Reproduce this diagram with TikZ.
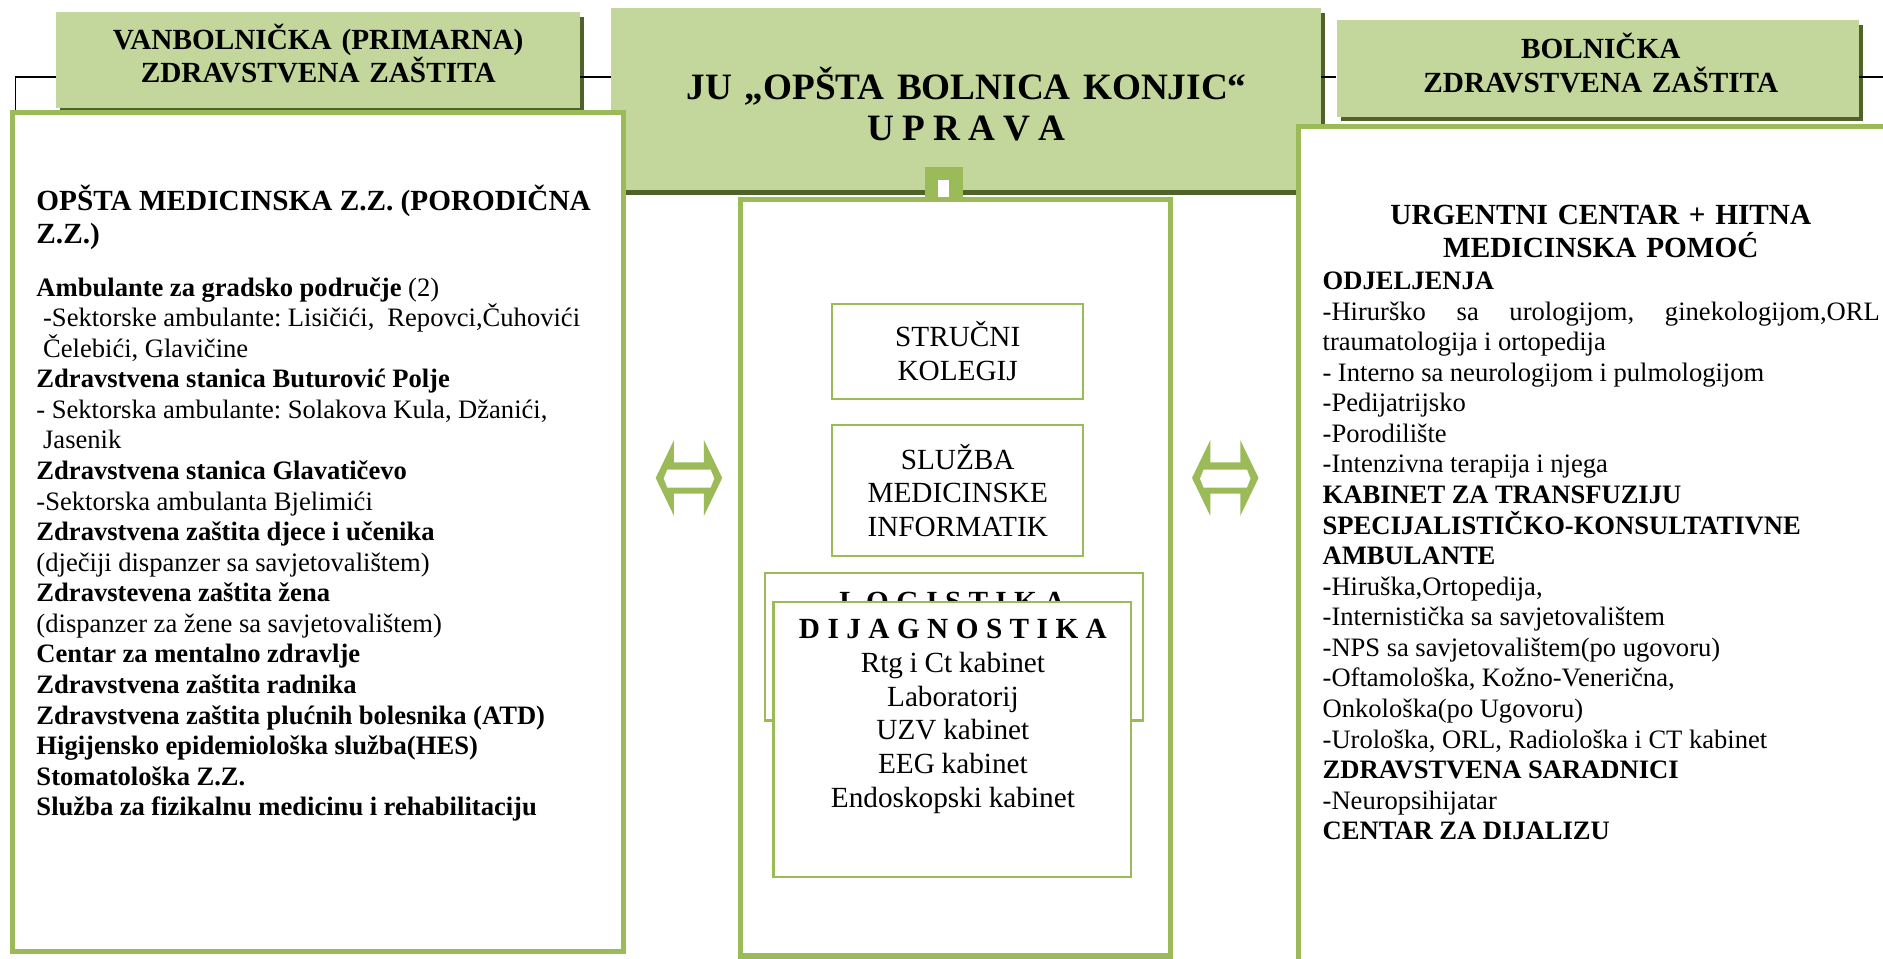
\documentclass[tikz,border=0pt]{standalone}
\usepackage{fontspec}
\setmainfont{Liberation Serif}
\usetikzlibrary{positioning,shadows}
\definecolor{hdrgreen}{HTML}{C3D69B}
\definecolor{hdrshade}{HTML}{4F6228}
\definecolor{boxgreen}{HTML}{9BBB59}
\newcommand{\px}{0.542pt}
% font size and leading, no extra space after punctuation
\newcommand{\setfs}[2]{\fontsize{#1}{#2}\selectfont\frenchspacing}
% word space, in em
\newcommand{\wsp}[1]{\spaceskip=#1em\relax}
\tikzset{
    % Define header box style
    hdrbox/.style={
           fill=hdrgreen,
           inner sep=0pt,
           drop shadow={fill=hdrshade, opacity=1, shadow xshift=1.8pt, shadow yshift=-2.2pt},},
    % Define connector style
    conn/.style={
           draw=black,
           line width=0.8pt,}
}

\begin{document}
\begin{tikzpicture}[x=\px, y=-\px,
bigbox/.style={draw=boxgreen, line width=2.3pt, fill=white, inner sep=0pt},
smallbox/.style={draw=boxgreen, line width=1pt, fill=white, inner sep=0pt,
   align=center, text width=108pt, font=\setfs{13.2}{15.3}},
hdrtext/.style={anchor=base, align=center, text width=236pt, inner sep=0pt,
   font=\setfs{13.2}{15}\bfseries},
bodytext/.style={anchor=base west, align=left, inner sep=0pt,
   font=\setfs{12}{13.8}},
arrowfill/.style={fill=boxgreen},
]
\useasboundingbox (0,0) rectangle (1568,798);
\clip (0,0) rectangle (1568,798);

%Headers
\node[hdrbox, minimum width=320.3pt, minimum height=81.8pt](chdr) at (804.5,82.5){};
\node[hdrbox, minimum width=236.3pt, minimum height=43.4pt](lhdr) at (265,50){};
\node[hdrbox, minimum width=235.8pt, minimum height=43.4pt](rhdr) at (1330.5,57){};
\node[draw=boxgreen, line width=6pt, fill=white, minimum width=11.1pt,
   minimum height=21.7pt, anchor=north, inner sep=0pt](tab) at (785.75,139){};

%Boxes
\node[bigbox, minimum width=193.8pt, minimum height=341.5pt](cbox) at (795.75,481){};
\node[bigbox, minimum width=275.6pt, minimum height=378.3pt](lbox) at (264.75,443){};
\node[bigbox, minimum width=292.7pt, minimum height=401pt](rbox) at (1351,475.5){};

%Header texts
\node[hdrtext](lhdrtxt) at (265,41){VANBOLNIČKA (PRIMARNA)\\ZDRAVSTVENA ZAŠTITA};
\node[hdrtext](rhdrtxt) at (1333,49){BOLNIČKA\\ZDRAVSTVENA ZAŠTITA};
\node[hdrtext, text width=310pt, font=\setfs{16.8}{18.7}\bfseries](chdrtxt)
   at (805,82.5){JU „OPŠTA BOLNICA KONJIC“\\{\wsp{0.22}U P R A V A}};

%Left column
\node[bodytext, text width=262.9pt, font=\setfs{13.2}{15.2}\bfseries](ltitle)
   at (30,175){\wsp{0.25}OPŠTA MEDICINSKA Z.Z. (PORODIČNA\\Z.Z.)};
\node[bodytext, text width=262.9pt](lbody) at (30,246.5){\wsp{0.245}%
\textbf{Ambulante za gradsko područje} (2)\\
\hspace*{3pt}-Sektorske ambulante: Lisičići,\ \ Repovci,Čuhovići\\
\hspace*{3pt}Čelebići, Glavičine\\
\textbf{Zdravstvena stanica Buturović Polje}\\
- Sektorska ambulante: Solakova Kula, Džanići,\\
\hspace*{3pt}Jasenik\\
\textbf{Zdravstvena stanica Glavatičevo}\\
-Sektorska ambulanta Bjelimići\\
\textbf{Zdravstvena zaštita djece i učenika}\\
(dječiji dispanzer sa savjetovalištem)\\
\textbf{Zdravstevena zaštita žena}\\
(dispanzer za žene sa savjetovalištem)\\
\textbf{Centar za mentalno zdravlje}\\
\textbf{Zdravstvena zaštita radnika}\\
\textbf{Zdravstvena zaštita plućnih bolesnika (ATD)}\\
\textbf{Higijensko epidemiološka služba(HES)}\\
\textbf{Stomatološka Z.Z.}\\
\textbf{Služba za fizikalnu medicinu i rehabilitaciju}};

%Centre column
\node[smallbox, minimum width=113.3pt, minimum height=42.8pt](strucni) at (797.5,292.5)
   {STRUČNI\\KOLEGIJ};
\node[smallbox, minimum width=113.3pt, minimum height=59.1pt](sluzba) at (797.5,408.5)
   {SLUŽBA\\MEDICINSKE\\INFORMATIK};
\node[smallbox, minimum width=170.7pt, minimum height=66.7pt](logist) at (794.5,538.5){};
\node[smallbox, anchor=base, text width=168pt, font=\setfs{13.2}{15.2}\bfseries, draw=none,
   fill=none](logtxt) at (793,509){\wsp{0.25}L O G I S T I K A};
\node[smallbox, minimum width=161.5pt, minimum height=124.1pt](dijag) at (793,615.5){};
\node[smallbox, anchor=base, text width=160pt, draw=none, fill=none,
   font=\setfs{13.2}{15.2}](dijtxt) at (793.5,532){%
{\wsp{0.255}\textbf{D I J A G N O S T I K A}}\\
\wsp{0.23}Rtg i Ct kabinet\\
Laboratorij\\
UZV kabinet\\
EEG kabinet\\
Endoskopski kabinet};

%Right column
\node[hdrtext, text width=252.6pt](rtitle) at (1333,187){URGENTNI CENTAR + HITNA\\MEDICINSKA POMOĆ};
\node[bodytext, text width=251.5pt](rbody) at (1101,241){\wsp{0.245}%
\textbf{ODJELJENJA}\\
-Hirurško\hfill sa\hfill urologijom,\hfill ginekologijom,ORL\\
traumatologija i ortopedija\\
- Interno sa neurologijom i pulmologijom\\
-Pedijatrijsko\\
-Porodilište\\
-Intenzivna terapija i njega\\
\textbf{KABINET ZA TRANSFUZIJU}\\
\textbf{SPECIJALISTIČKO-KONSULTATIVNE}\\
\textbf{AMBULANTE}\\
\textbf{-}Hiruška,Ortopedija,\\
-Internistička sa savjetovalištem\\
-NPS sa savjetovalištem(po ugovoru)\\
-Oftamološka, Kožno-Venerična,\\
Onkološka(po Ugovoru)\\
-Urološka, ORL, Radiološka i CT kabinet\\
\textbf{ZDRAVSTVENA SARADNICI}\\
-Neuropsihijatar\\
\textbf{CENTAR ZA DIJALIZU}};

%Double arrows
\foreach \cx in {573.7,1020.3}{
  \path[arrowfill] ({\cx-27.7},398) -- ({\cx-12.5},366.5) -- ({\cx-12.5},385)
     -- ({\cx+12.5},385) -- ({\cx+12.5},366.5) -- ({\cx+27.7},398)
     -- ({\cx+12.5},429.5) -- ({\cx+12.5},411) -- ({\cx-12.5},411)
     -- ({\cx-12.5},429.5) -- cycle;
  \path[fill=white] ({\cx-21},398.5) -- ({\cx-18},391) -- ({\cx+18},391)
     -- ({\cx+21},398.5) -- ({\cx+18},406) -- ({\cx-18},406) -- cycle;
}

%Connectors
\coordinate (ljoin) at (13,64);
\coordinate (rjoin) at (1568,64);
\draw[conn] (lbox.north -| ljoin) -- (ljoin) -- (lhdr.west |- ljoin);
\draw[conn] (lhdr.east |- ljoin) -- (chdr.west |- ljoin);
\draw[conn] (chdr.east |- ljoin) -- (rhdr.west |- ljoin);
\draw[conn] (rhdr.east |- ljoin) -- (rjoin);

\end{tikzpicture}
\end{document}
